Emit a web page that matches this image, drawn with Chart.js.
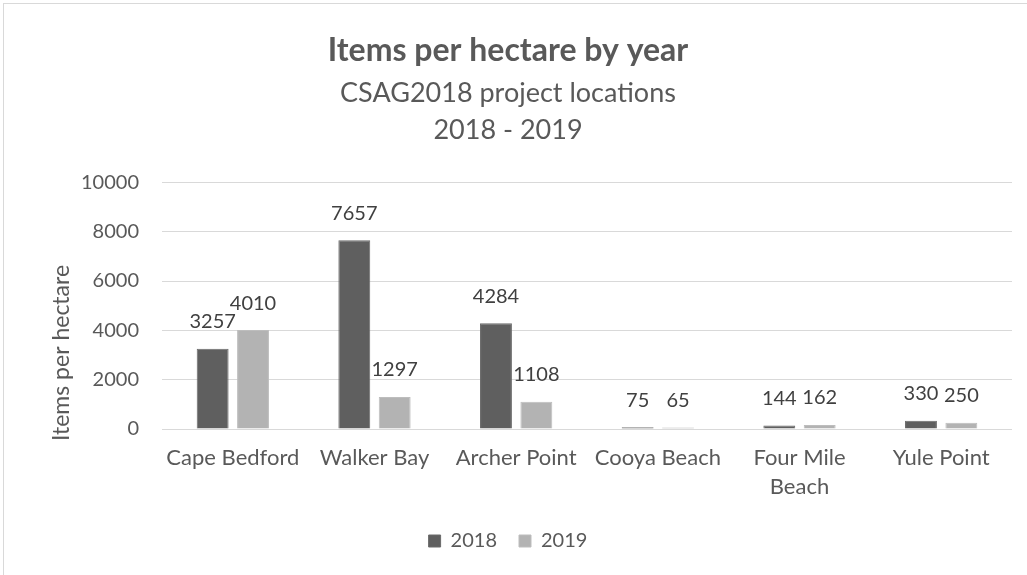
<!DOCTYPE html>
<html lang="en">
<head>
  <meta charset="UTF-8">
  <title>Items per hectare by year</title>
  <script src="https://cdn.jsdelivr.net/npm/chart.js"></script>
  <style>
    body {
      margin: 0;
      padding: 0;
      background: #fff;
    }
    #chartBox {
      width: 1027px;
      height: 575px;
      position: relative;
    }
  </style>
</head>
<body>
  <div id="chartBox">
    <canvas id="myChart"></canvas>
  </div>

  <script>
    const locations = ['Cape Bedford', 'Walker Bay', 'Archer Point', 'Cooya Beach', ['Four Mile', 'Beach'], 'Yule Point'];
    const items2018 = [3257, 7657, 4284, 75, 144, 330];
    const items2019 = [4010, 1297, 1108, 65, 162, 250];
    const yTicks = [0, 2000, 4000, 6000, 8000, 10000];

    const FONT = 'Lato, "Open Sans", sans-serif';
    const TEXT = '#595959';

    // light frame round the chart, like the Excel chart border
    const frame = {
      id: 'frame',
      beforeDraw(chart) {
        const ctx = chart.ctx;
        ctx.save();
        ctx.strokeStyle = '#d9d9d9';
        ctx.lineWidth = 1;
        ctx.strokeRect(3.5, 3.5, 1100, 1100);
        ctx.restore();
      }
    };

    // x labels are clipped to the axis box; let the two-line label run into the legend gap
    const labelRoom = {
      id: 'labelRoom',
      afterLayout(chart) {
        chart.scales.x.bottom = chart.height;
      }
    };

    // value labels above every bar
    const valueLabels = {
      id: 'valueLabels',
      afterDatasetsDraw(chart) {
        const ctx = chart.ctx;
        ctx.save();
        ctx.font = '20px ' + FONT;
        ctx.fillStyle = '#404040';
        ctx.textAlign = 'center';
        ctx.textBaseline = 'middle';
        chart.data.datasets.forEach((ds, i) => {
          chart.getDatasetMeta(i).data.forEach((bar, j) => {
            ctx.fillText(ds.data[j], bar.x, bar.y - 27);
          });
        });
        ctx.restore();
      }
    };

    // y axis title, placed a little below the middle as in the original
    const yTitle = {
      id: 'yTitle',
      afterDraw(chart) {
        const ctx = chart.ctx;
        const area = chart.chartArea;
        ctx.save();
        ctx.translate(62, area.bottom - 76);
        ctx.rotate(-Math.PI / 2);
        ctx.font = '23px ' + FONT;
        ctx.fillStyle = TEXT;
        ctx.textAlign = 'center';
        ctx.textBaseline = 'middle';
        ctx.fillText('Items per hectare', 0, 0);
        ctx.restore();
      }
    };

    new Chart(document.getElementById('myChart'), {
      type: 'bar',
      data: {
        labels: locations,
        datasets: [
          { label: '2018', data: items2018, backgroundColor: '#5f5f5f', borderColor: '#6a6a6a', borderWidth: 1 },
          { label: '2019', data: items2019, backgroundColor: '#b3b3b3', borderColor: '#bdbdbd', borderWidth: 1 }
        ]
      },
      options: {
        responsive: true,
        maintainAspectRatio: false,
        animation: false,
        categoryPercentage: 0.57,
        barPercentage: 0.79,
        layout: { padding: { left: 4, right: 15, top: 0, bottom: 14 } },
        plugins: {
          title: {
            display: true,
            text: 'Items per hectare by year',
            color: TEXT,
            font: { family: FONT, size: 32, weight: 'bold', lineHeight: 1.2 },
            padding: { top: 31, bottom: 5 }
          },
          subtitle: {
            display: true,
            text: ['CSAG2018 project locations', '2018 - 2019'],
            color: TEXT,
            font: { family: FONT, size: 27, lineHeight: 1.37 },
            padding: { top: 0, bottom: 34 }
          },
          legend: {
            position: 'bottom',
            labels: {
              color: TEXT,
              font: { family: FONT, size: 20 },
              boxWidth: 12,
              boxHeight: 12,
              padding: 22
            }
          },
          tooltip: { enabled: false }
        },
        scales: {
          x: {
            grid: { display: false },
            border: { display: false },
            afterFit(scale) {
              scale.height = 80;
            },
            ticks: {
              color: TEXT,
              font: { family: FONT, size: 22, lineHeight: 1.32 },
              padding: 6,
              maxRotation: 0,
              autoSkip: false
            }
          },
          y: {
            min: 0,
            max: 10000,
            afterBuildTicks(scale) {
              scale.ticks = yTicks.map(v => ({ value: v }));
            },
            afterFit(scale) {
              scale.width = 158;
            },
            grid: { color: '#d9d9d9', drawTicks: false },
            border: { display: false },
            ticks: {
              color: TEXT,
              font: { family: FONT, size: 20 },
              padding: 23,
              callback: v => String(v)
            }
          }
        }
      },
      plugins: [frame, labelRoom, valueLabels, yTitle]
    });
  </script>
</body>
</html>
